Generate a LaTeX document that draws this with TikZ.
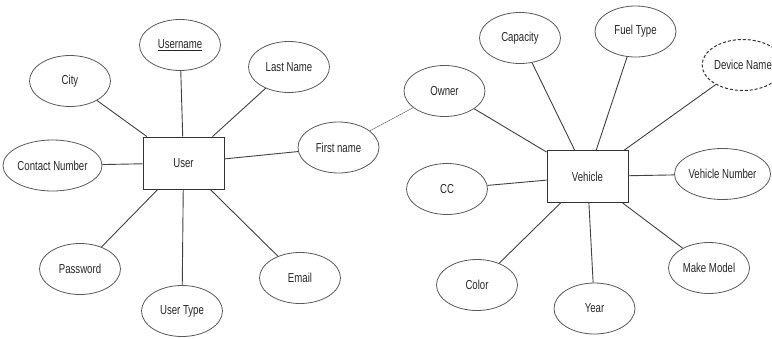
\documentclass[tikz,border=0pt]{standalone}
\usepackage{fontspec}
\setmainfont{Liberation Sans}[FakeStretch=0.74]
\usetikzlibrary{positioning, shapes.geometric}

\begin{document}
\begin{tikzpicture}[
                x=1pt, y=-1pt,
                font=\fontsize{13}{15}\selectfont,
                entity/.style={rectangle, draw=black!80, line width=0.9pt, minimum width=81pt, minimum height=52pt, inner sep=0pt, text=black!85},
                attr/.style={ellipse, draw=black!65, line width=0.8pt, minimum width=81pt, minimum height=51pt, inner sep=0pt, text=black!85},
                link/.style={draw=black!75, line width=0.9pt},
            ]
                \useasboundingbox (0,0) rectangle (772,338);

                % Draw the two entities
                \node[entity] (user) at (183.5,163) {User};
                \node[entity] (vehicle) at (587.5,176.5) {Vehicle};

                % Draw the attributes of the user
                \foreach \name / \x / \y / \text in {uname/180/45/{\underline{Username}}, lname/289/67/Last Name,
                        city/70/81/City, contact/52.5/165.5/Contact Number, fname/338.5/147.5/First name,
                        pass/80/269/Password, utype/182/311/User Type, email/300/278/Email}
                    \node[attr] (\name) at (\x,\y) {\text};

                % Draw the attributes of the vehicle
                \foreach \name / \x / \y / \text in {owner/444.5/91/Owner, capacity/520/38/Capacity,
                        fuel/635.5/31.5/Fuel Type, cc/447/189/CC, vnum/722.5/174/Vehicle Number,
                        color/477/285/Color, year/594.5/308.5/Year, make/709/268/Make Model}
                    \node[attr] (\name) at (\x,\y) {\text};
                \node[attr, draw=black!80, line width=1pt, dash pattern=on 3pt off 2pt] (device) at (743,65) {Device Name};

                % Connect every attribute with its entity
                \foreach \dest in {uname, lname, city, contact, fname, pass, utype, email}
                    \path[link] (user) -- (\dest);
                \foreach \dest in {owner, capacity, fuel, device, cc, vnum, color, year, make}
                    \path[link] (vehicle) -- (\dest);

                % Link between the two sides
                \draw[draw=black!70, line width=0.4pt] (fname) -- (owner);
            \end{tikzpicture}
\end{document}
